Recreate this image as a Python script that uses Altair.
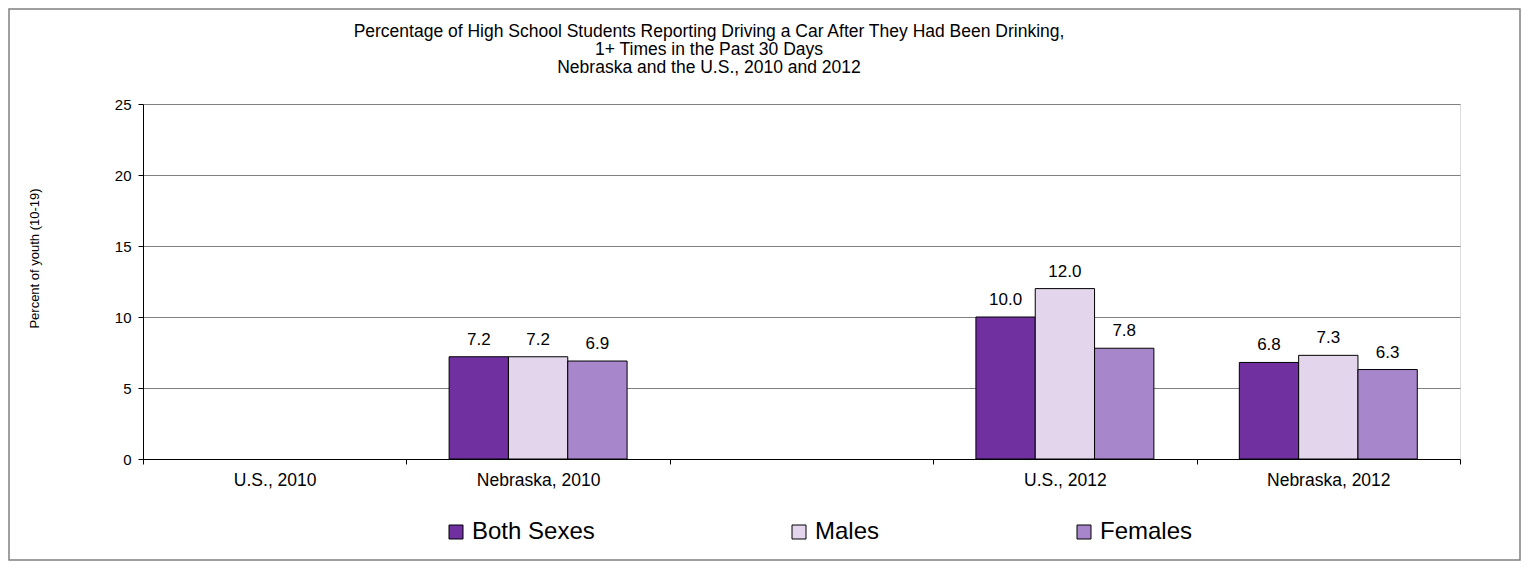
import altair as alt
import pandas as pd

locations = ["U.S., 2010", "Nebraska, 2010", " ", "U.S., 2012", "Nebraska, 2012"]
groups = ["Both Sexes", "Males", "Females"]
both_sexes = [None, 7.2, None, 10.0, 6.8]
males = [None, 7.2, None, 12.0, 7.3]
females = [None, 6.9, None, 7.8, 6.3]
colors = ["#7030A0", "#e2d5ec", "#a886cb"]
y_ticks = [0, 5, 10, 15, 20, 25]
title_lines = ["Percentage of High School Students Reporting Driving a Car After They Had Been Drinking,",
               "1+ Times in the Past 30 Days",
               "Nebraska and the U.S., 2010 and 2012"]

rows = []
for g, vals in zip(groups, [both_sexes, males, females]):
    for loc, v in zip(locations, vals):
        if v is not None:
            rows.append({"loc": loc, "group": g, "value": v})
df = pd.DataFrame(rows)

FONT = "Liberation Sans"
W, H = 1317, 355

x_enc = alt.X("loc:N", sort=locations,
              scale=alt.Scale(domain=locations, paddingInner=0, paddingOuter=0),
              axis=alt.Axis(title=None, labelAngle=0, tickBand="extent", tickSize=5,
                            tickColor="black", domainColor="black", labelFontSize=17.5,
                            labelFont=FONT, labelColor="black", labelPadding=7, grid=False))
xoff = alt.XOffset("group:N", sort=groups,
                   scale=alt.Scale(domain=groups, paddingInner=0, paddingOuter=0.72))
y_enc = alt.Y("value:Q", scale=alt.Scale(domain=[0, 25], nice=False),
              axis=alt.Axis(title="Percent of youth (10-19)", values=y_ticks, tickSize=5,
                            tickColor="black", domainColor="black", gridColor="#808080",
                            labelFontSize=15, labelFont=FONT, labelColor="black",
                            labelPadding=7, titleFont=FONT, titleFontSize=13,
                            titleFontWeight="normal", titleColor="black",
                            titleX=-109, titleY=154, titleAngle=270,
                            titleAlign="center", titleBaseline="middle"))

base = alt.Chart(df)
bars = base.mark_bar(stroke="black", strokeWidth=1).encode(
    x=x_enc, xOffset=xoff, y=y_enc,
    color=alt.Color("group:N", sort=groups,
                    scale=alt.Scale(domain=groups, range=colors),
                    legend=alt.Legend(title=None, orient="none", direction="horizontal",
                                      legendX=301, legendY=416, symbolType="square",
                                      symbolSize=196, symbolStrokeColor="black",
                                      symbolStrokeWidth=1, labelFontSize=24,
                                      labelFont=FONT, labelColor="black", labelOffset=4,
                                      columnPadding=192, padding=0, labelLimit=300)),
)
labels = base.mark_text(baseline="alphabetic", dy=-12, fontSize=17, font=FONT,
                        color="black").encode(
    x=x_enc, xOffset=xoff, y="value:Q", text=alt.Text("value:Q", format=".1f"))

title = alt.Chart(pd.DataFrame({"t": ["\n".join(title_lines)]})).mark_text(
    align="center", baseline="middle", fontSize=17.5, font=FONT, color="black",
    lineBreak="\n", lineHeight=18, clip=False).encode(
    text="t:N", x=alt.value(566), y=alt.value(-72))

frame = alt.Chart(pd.DataFrame({"a": [0]})).mark_rect(
    fill="transparent", stroke="#808080", strokeWidth=1.5, clip=False).encode(
    x=alt.value(-134), x2=alt.value(W + 60), y=alt.value(-95), y2=alt.value(H + 101))

chart = alt.layer(bars, labels, title, frame).properties(
    width=W, height=H,
    padding={"left": 135, "top": 96, "right": 62, "bottom": 103},
    autosize=alt.AutoSizeParams(type="none"),
).configure_view(stroke="#808080").configure(background="white")

chart.save("out.html", embed_options={"renderer": "svg", "actions": False})
